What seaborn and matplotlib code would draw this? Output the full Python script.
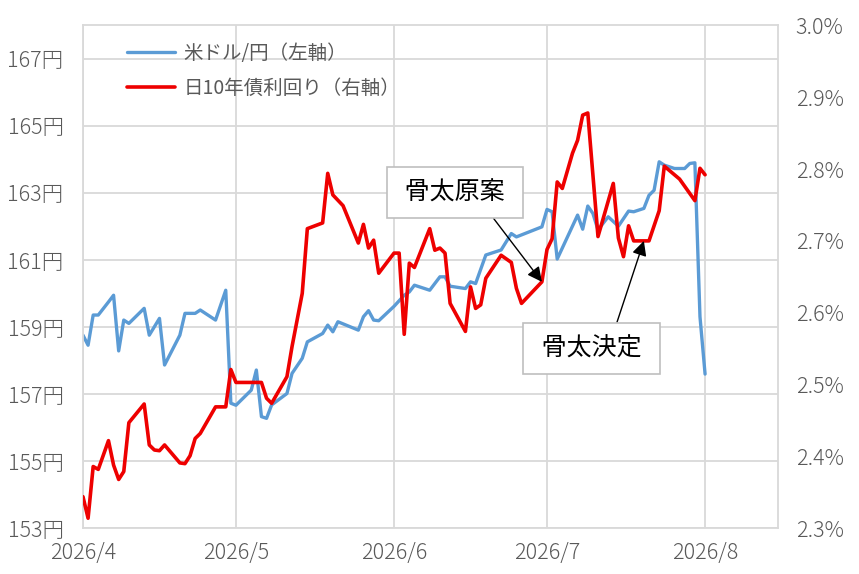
import pandas as pd
import matplotlib
matplotlib.use("Agg")
import matplotlib.pyplot as plt
from matplotlib.ticker import FuncFormatter
import seaborn as sns

# ==========================================
# Data
# ==========================================
usd_dates = [
    "2026-04-01", "2026-04-02", "2026-04-03", "2026-04-04", "2026-04-06", "2026-04-07",
    "2026-04-08", "2026-04-09", "2026-04-10", "2026-04-13", "2026-04-14", "2026-04-16",
    "2026-04-17", "2026-04-20", "2026-04-21", "2026-04-23", "2026-04-24", "2026-04-27",
    "2026-04-29", "2026-04-30",
    "2026-05-01", "2026-05-04", "2026-05-05", "2026-05-06", "2026-05-07", "2026-05-08",
    "2026-05-11", "2026-05-12", "2026-05-14", "2026-05-15", "2026-05-18", "2026-05-19",
    "2026-05-20", "2026-05-21", "2026-05-25", "2026-05-26", "2026-05-27", "2026-05-28",
    "2026-05-29",
    "2026-06-01", "2026-06-03", "2026-06-04", "2026-06-05", "2026-06-08", "2026-06-10",
    "2026-06-11", "2026-06-12", "2026-06-15", "2026-06-16", "2026-06-17", "2026-06-19",
    "2026-06-20", "2026-06-22", "2026-06-24", "2026-06-25", "2026-06-30",
    "2026-07-01", "2026-07-02", "2026-07-03", "2026-07-07", "2026-07-08", "2026-07-09",
    "2026-07-10", "2026-07-11", "2026-07-13", "2026-07-15", "2026-07-17", "2026-07-18",
    "2026-07-20", "2026-07-21", "2026-07-22", "2026-07-23", "2026-07-24", "2026-07-26",
    "2026-07-28", "2026-07-29", "2026-07-30", "2026-07-31",
    "2026-08-01",
]
usd_jpy = [
    158.76, 158.46, 159.36, 159.36, 159.75, 159.95,
    158.29, 159.21, 159.11, 159.56, 158.76, 159.26,
    157.87, 158.76, 159.41, 159.41, 159.51, 159.21,
    160.10, 156.73,
    156.67, 157.12, 157.72, 156.33, 156.28, 156.68,
    157.02, 157.62, 158.07, 158.56, 158.81, 159.06,
    158.86, 159.16, 158.91, 159.31, 159.49, 159.21,
    159.19,
    159.62, 159.95, 160.05, 160.25, 160.10, 160.50,
    160.50, 160.22, 160.15, 160.35, 160.30, 161.15,
    161.20, 161.30, 161.79, 161.69, 161.99,
    162.51, 162.44, 161.03, 162.34, 161.92, 162.61,
    162.39, 161.90, 162.29, 162.01, 162.46, 162.44,
    162.54, 162.93, 163.08, 163.93, 163.83, 163.73,
    163.73, 163.88, 163.90, 159.31,
    157.60,
]

jgb_dates = [
    "2026-04-01", "2026-04-02", "2026-04-03", "2026-04-04", "2026-04-06", "2026-04-07",
    "2026-04-08", "2026-04-09", "2026-04-10", "2026-04-13", "2026-04-14", "2026-04-15",
    "2026-04-16", "2026-04-17", "2026-04-20", "2026-04-21", "2026-04-22", "2026-04-23",
    "2026-04-24", "2026-04-27", "2026-04-29", "2026-04-30",
    "2026-05-01", "2026-05-06", "2026-05-07", "2026-05-08", "2026-05-11", "2026-05-12",
    "2026-05-14", "2026-05-15", "2026-05-18", "2026-05-19", "2026-05-20", "2026-05-22",
    "2026-05-25", "2026-05-26", "2026-05-27", "2026-05-28", "2026-05-29",
    "2026-06-01", "2026-06-02", "2026-06-03", "2026-06-04", "2026-06-05", "2026-06-08",
    "2026-06-09", "2026-06-10", "2026-06-11", "2026-06-12", "2026-06-15", "2026-06-16",
    "2026-06-17", "2026-06-18", "2026-06-19", "2026-06-22", "2026-06-24", "2026-06-25",
    "2026-06-26", "2026-06-30",
    "2026-07-01", "2026-07-02", "2026-07-03", "2026-07-04", "2026-07-06", "2026-07-07",
    "2026-07-08", "2026-07-09", "2026-07-11", "2026-07-14", "2026-07-15", "2026-07-16",
    "2026-07-17", "2026-07-18", "2026-07-21", "2026-07-23", "2026-07-24", "2026-07-27",
    "2026-07-30", "2026-07-31",
    "2026-08-01",
]
jgb_10y = [
    2.344, 2.314, 2.386, 2.382, 2.422, 2.388,
    2.368, 2.379, 2.447, 2.473, 2.416, 2.409,
    2.408, 2.416, 2.391, 2.390, 2.401, 2.425,
    2.432, 2.469, 2.469, 2.521,
    2.503, 2.503, 2.481, 2.474, 2.511, 2.553,
    2.627, 2.717, 2.725, 2.794, 2.764, 2.749,
    2.697, 2.723, 2.690, 2.701, 2.655,
    2.683, 2.683, 2.570, 2.669, 2.663, 2.717,
    2.687, 2.690, 2.683, 2.613, 2.574, 2.636,
    2.606, 2.611, 2.648, 2.680, 2.670, 2.634,
    2.613, 2.643,
    2.688, 2.703, 2.782, 2.773, 2.822, 2.840,
    2.875, 2.878, 2.706, 2.780, 2.704, 2.678,
    2.721, 2.700, 2.700, 2.742, 2.804, 2.786,
    2.756, 2.801,
    2.792,
]

month_ticks = ["2026-04-01", "2026-05-01", "2026-06-01", "2026-07-01", "2026-08-01"]
month_labels = ["2026/4", "2026/5", "2026/6", "2026/7", "2026/8"]
yen_ticks = [153, 155, 157, 159, 161, 163, 165, 167]
pct_ticks = [2.3, 2.4, 2.5, 2.6, 2.7, 2.8, 2.9, 3.0]

label_usd = "米ドル/円（左軸）"
label_jgb = "日10年債利回り（右軸）"
note_draft = " 骨太原案 "
note_final = " 骨太決定 "
# arrows point at the yield line on these days
draft_date, draft_ref = "2026-06-30", "2026-06-30"
final_date, final_ref = "2026-07-20", "2026-07-21"

usd_df = pd.DataFrame({"date": pd.to_datetime(usd_dates), "rate": usd_jpy})
jgb_df = pd.DataFrame({"date": pd.to_datetime(jgb_dates), "yield": jgb_10y})

# ==========================================
# Style
# ==========================================
sns.set_style("white")
plt.rcParams["font.family"] = ["Noto Sans CJK JP", "DejaVu Sans"]

grid_c = "#d9d9d9"
text_c = "#595959"

fig, ax = plt.subplots(figsize=(8.59, 5.74), dpi=100)
fig.subplots_adjust(left=0.0966, right=0.9054, bottom=0.0796, top=0.9559)
ax2 = ax.twinx()

sns.lineplot(data=usd_df, x="date", y="rate", ax=ax, color="#5B9BD5",
             linewidth=2.4, label=label_usd, legend=False)
sns.lineplot(data=jgb_df, x="date", y="yield", ax=ax2, color="#EE0000",
             linewidth=2.6, label=label_jgb, legend=False)

# ==========================================
# Axes
# ==========================================
ax.set_xlim(pd.Timestamp("2026-04-01"), pd.Timestamp("2026-08-15 06:00"))
ax.set_ylim(153, 168)
ax2.set_ylim(2.3, 3.0)

ax.set_xticks(pd.to_datetime(month_ticks))
ax.set_xticklabels(month_labels)
ax.set_yticks(yen_ticks)
ax.set_yticklabels([f"{v}円" for v in yen_ticks])
ax2.set_yticks(pct_ticks)
ax2.yaxis.set_major_formatter(FuncFormatter(lambda v, p: f"{v:.1f}%"))

for a in (ax, ax2):
    a.set_xlabel("")
    a.set_ylabel("")

ax.tick_params(axis="y", length=0, labelsize=15.5, labelcolor=text_c, pad=14)
ax.tick_params(axis="x", length=0, labelsize=15.5, labelcolor=text_c, pad=10)
ax2.tick_params(axis="y", length=0, labelsize=15.5, labelcolor=text_c, pad=13)
for lab in ax.get_xticklabels() + ax.get_yticklabels() + ax2.get_yticklabels():
    lab.set_fontweight("light")

ax.grid(True, color=grid_c, linewidth=1.3)
ax2.grid(False)
for s in ax.spines.values():
    s.set_color(grid_c)
    s.set_linewidth(1.3)
for s in ax2.spines.values():
    s.set_visible(False)

# ==========================================
# Legend & annotations
# ==========================================
handles = ax.get_lines()[:1] + ax2.get_lines()[:1]
ax2.legend(handles, [label_usd, label_jgb], loc="upper left",
           bbox_to_anchor=(0.063, 0.965), frameon=False, fontsize=14,
           handlelength=2.5, handletextpad=0.4, labelspacing=0.72,
           borderpad=0, borderaxespad=0, labelcolor=text_c)

box = dict(boxstyle="square,pad=0.5", fc="white", ec="#bfbfbf", lw=1.2)
arrow = dict(arrowstyle="-|>", color="black", lw=1.0, mutation_scale=22,
             shrinkA=0, shrinkB=0)

tip1_y = jgb_df.loc[jgb_df["date"] == pd.Timestamp(draft_ref), "yield"].iloc[0]
tip2_y = jgb_df.loc[jgb_df["date"] == pd.Timestamp(final_ref), "yield"].iloc[0]

ax2.annotate(note_draft, xy=(pd.Timestamp(draft_date), tip1_y), xycoords="data",
             xytext=(0.535, 0.668), textcoords="axes fraction",
             ha="center", va="center", fontsize=18, color="black",
             bbox=box, arrowprops={**arrow, "relpos": (0.76, 0.0)})
ax2.annotate(note_final, xy=(pd.Timestamp(final_date), tip2_y), xycoords="data",
             xytext=(0.732, 0.358), textcoords="axes fraction",
             ha="center", va="center", fontsize=18, color="black",
             bbox=box, arrowprops={**arrow, "relpos": (0.69, 1.0)})

plt.savefig("out.png", dpi=100)
